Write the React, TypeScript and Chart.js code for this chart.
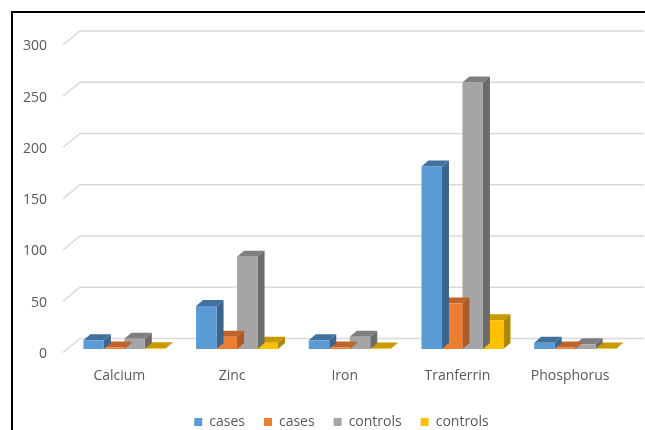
import React, { useEffect, useRef } from "react";
import { Chart, registerables } from "chart.js";

Chart.register(...registerables);

const categories = ["Calcium", "Zinc", "Iron", "Tranferrin", "Phosphorus"];
const casesBlue = [8.5, 42, 8.5, 178, 6];
const casesOrange = [1.5, 12, 1.5, 44.5, 1.5];
const controlsGray = [10, 90, 12, 260, 4.6];
const controlsYellow = [0.8, 6, 0.6, 28, 0.6];
const seriesLabels = ["cases", "cases", "controls", "controls"];
const yTickValues = [0, 50, 100, 150, 200, 250, 300];

const frontColors = ["#5B9BD5", "#ED7D31", "#A5A5A5", "#FFC000"];
const topColors = ["#41719C", "#BE6428", "#7F7F7F", "#C79A00"];
const sideColors = ["#3A6690", "#AE5A24", "#6B6B6B", "#B08800"];

const DX = 7;
const DY = 6;

const borderPlugin = {
  id: "outerBorder",
  beforeDraw(chart: any) {
    const { ctx } = chart;
    ctx.save();
    ctx.fillStyle = "#ffffff";
    ctx.fillRect(0, 0, chart.width, chart.height);
    ctx.strokeStyle = "#000000";
    ctx.lineWidth = 2;
    ctx.beginPath();
    ctx.moveTo(12, chart.height + 5);
    ctx.lineTo(12, 12);
    ctx.lineTo(chart.width + 5, 12);
    ctx.stroke();
    ctx.restore();
  },
};

const legendShiftPlugin = {
  id: "legendShift",
  afterLayout(chart: any) {
    if (chart.legend) {
      chart.legend.left += 33.5;
    }
  },
};

const gridPlugin = {
  id: "grid3d",
  beforeDatasetsDraw(chart: any) {
    const { ctx, chartArea } = chart;
    const yScale = chart.scales.y;
    ctx.save();
    ctx.strokeStyle = "#D9D9D9";
    ctx.lineWidth = 1.5;
    yTickValues.forEach((v) => {
      const py = yScale.getPixelForValue(v);
      const backY = py - 10.5;
      ctx.beginPath();
      ctx.moveTo(chartArea.left - 5, backY + 14);
      ctx.lineTo(chartArea.left + 12, backY);
      ctx.lineTo(chart.width - 1, backY);
      ctx.stroke();
    });
    ctx.restore();
  },
};

const bar3dPlugin = {
  id: "bar3d",
  beforeDatasetDraw(chart: any, args: any) {
    const { ctx } = chart;
    const i = args.index;
    const meta = args.meta;
    ctx.save();
    meta.data.forEach((el: any) => {
      const { x, y, base, width } = el.getProps(["x", "y", "base", "width"], true);
      const l = x - width / 2;
      const r = x + width / 2;
      ctx.fillStyle = sideColors[i];
      ctx.beginPath();
      ctx.moveTo(r, y);
      ctx.lineTo(r + DX, y - DY);
      ctx.lineTo(r + DX, base - DY);
      ctx.lineTo(r, base);
      ctx.closePath();
      ctx.fill();
      ctx.fillStyle = topColors[i];
      ctx.beginPath();
      ctx.moveTo(l, y);
      ctx.lineTo(l + DX, y - DY);
      ctx.lineTo(r + DX, y - DY);
      ctx.lineTo(r, y);
      ctx.closePath();
      ctx.fill();
    });
    ctx.restore();
  },
};

export default function App() {
  const canvasRef = useRef<HTMLCanvasElement | null>(null);

  useEffect(() => {
    if (!canvasRef.current) return;
    Chart.defaults.font.family = "'Open Sans', sans-serif";
    const seriesData = [casesBlue, casesOrange, controlsGray, controlsYellow];
    const chart = new Chart(canvasRef.current, {
      type: "bar",
      data: {
        labels: categories,
        datasets: seriesData.map((d, i) => ({
          label: seriesLabels[i],
          data: d,
          backgroundColor: frontColors[i],
          borderWidth: 0,
          categoryPercentage: 0.727,
          barPercentage: 1,
        })),
      },
      options: {
        responsive: false,
        animation: false,
        devicePixelRatio: 1,
        layout: { padding: { left: 18, right: 13.5, top: 41.5, bottom: -9 } },
        scales: {
          x: {
            grid: { display: false, drawTicks: false },
            border: { display: false },
            ticks: { padding: 19, labelOffset: -5, color: "#595959", font: { size: 14 } },
            afterFit: (s: any) => {
              s.height = 47;
            },
          },
          y: {
            min: 0,
            max: 300,
            grid: { display: false, drawTicks: false },
            border: { display: false },
            ticks: { stepSize: 50, padding: 21, labelOffset: 5, color: "#595959", font: { size: 14 } },
            afterFit: (s: any) => {
              s.width = 50;
            },
          },
        },
        plugins: {
          legend: {
            position: "bottom",
            labels: {
              boxWidth: 8,
              boxHeight: 8,
              padding: 19,
              color: "#595959",
              font: { size: 14 },
            },
          },
          tooltip: { enabled: false },
        },
      },
      plugins: [borderPlugin, legendShiftPlugin, gridPlugin, bar3dPlugin],
    } as any);
    return () => chart.destroy();
  }, []);

  return (
    <div style={{ position: "fixed", left: 0, top: 0, width: 645, height: 430 }}>
      <canvas ref={canvasRef} width={645} height={430} style={{ width: 645, height: 430, display: "block" }} />
    </div>
  );
}
